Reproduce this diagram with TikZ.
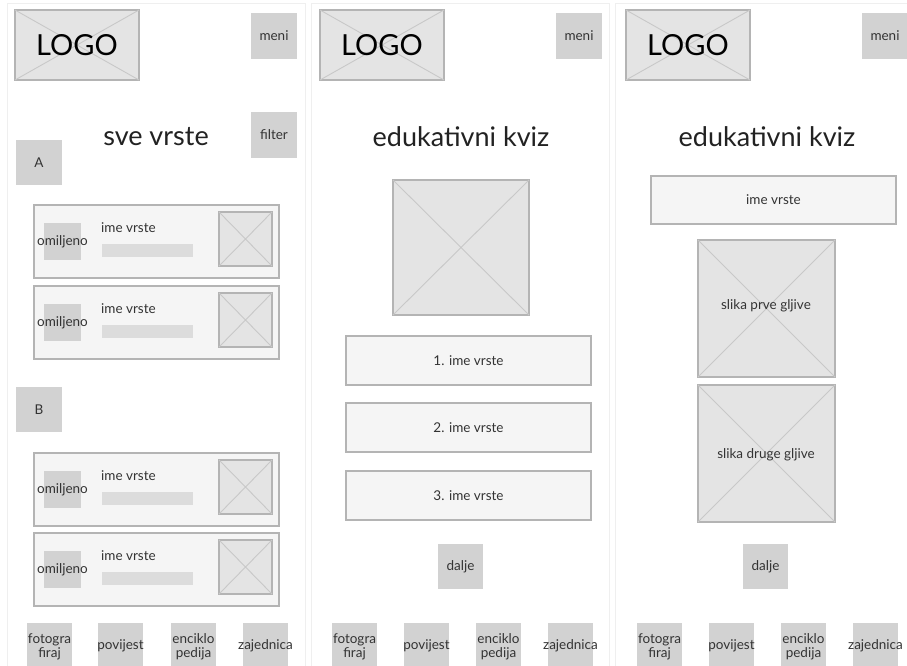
\documentclass[tikz,border=0pt]{standalone}
\usepackage{fontspec}
\setmainfont{Lato}
\definecolor{phfill}{HTML}{E4E4E4}
\definecolor{phline}{HTML}{B4B4B4}
\definecolor{diagc}{HTML}{C8C8C8}
\definecolor{gbox}{HTML}{D2D2D2}
\definecolor{cardfill}{HTML}{F5F5F5}
\definecolor{cardline}{HTML}{B4B4B4}
\definecolor{barc}{HTML}{DCDCDC}
\definecolor{framec}{HTML}{EFEFEF}
\definecolor{txt}{HTML}{333333}
\definecolor{ttl}{HTML}{222222}
\tikzset{
  ph/.style={draw=phline, fill=phfill, line width=1.3pt, inner sep=0pt, outer sep=0pt},
  diag/.style={draw=diagc, line width=0.9pt},
  gray/.style={fill=gbox, inner sep=0pt, outer sep=0pt},
  cardbox/.style={draw=cardline, fill=cardfill, line width=1.2pt, inner sep=0pt, outer sep=0pt},
  barbox/.style={fill=barc, inner sep=0pt, outer sep=0pt},
  frame/.style={draw=framec, line width=1pt, inner sep=0pt, outer sep=0pt},
  small/.style={text=txt, font=\fontsize{13.5}{14}\selectfont, inner sep=0pt, align=center},
  title/.style={text=ttl, font=\fontsize{27}{30}\selectfont, inner sep=0pt},
  logo/.style={text=black, font=\fontsize{29}{32}\selectfont, inner sep=0pt},
}
% name, x1, y1, x2, y2, style, text
\newcommand\wbox[7]{\node[#6, minimum width={(#4)-(#2)}, minimum height={(#5)-(#3)}] (#1) at ({((#2)+(#4))/2},{((#3)+(#5))/2}) {#7};}
% placeholder image: name, x1,y1,x2,y2
\newcommand\wimg[5]{\wbox{#1}{#2}{#3}{#4}{#5}{ph}{}
  \draw[diag] (#1.north west) -- (#1.south east) (#1.south west) -- (#1.north east);}
% card: name, top y
\newcommand\wcard[2]{%
  \wbox{#1}{34}{#2}{279}{#2+73}{cardbox}{}
  \wbox{#1f}{44}{#2+18}{81}{#2+55}{gray}{}
  \node[small] (#1ft) at (#1f) {omiljeno};
  \node[small, anchor=west] (#1n) at (101,{#2+23}) {ime vrste};
  \wbox{#1b}{102}{#2+39}{193}{#2+52}{barbox}{}
  \wimg{#1i}{219}{#2+7}{272}{#2+61}}
% nav: prefix, x offsets of four boxes
\newcommand\wnav[5]{%
  \wbox{#1a}{#2}{623}{#2+45}{668}{gray}{}
  \wbox{#1b}{#3}{623}{#3+45}{668}{gray}{}
  \wbox{#1c}{#4}{623}{#4+45}{668}{gray}{}
  \wbox{#1d}{#5}{623}{#5+45}{668}{gray}{}
  \node[small] (#1at) at ({#2+22.5},647) {fotogra\\firaj};
  \node[small] (#1bt) at ({#3+22.5},646) {povijest};
  \node[small] (#1ct) at ({#4+22.5},647) {enciklo\\pedija};
  \node[small] (#1dt) at ({#5+22.5},646) {zajednica};}
\begin{document}
\begin{tikzpicture}[x=1pt,y=-1pt]
\useasboundingbox (0,0) rectangle (907,665);
\fill[white] (0,0) rectangle (907,665);
% panel frames
\wbox{f1}{7}{3}{305}{672}{frame}{}
\wbox{f2}{311}{3}{609}{672}{frame}{}
\wbox{f3}{615}{3}{912}{672}{frame}{}

% ---------- panel 1 ----------
\wimg{l1}{15}{10}{139}{80}
\node[logo] (l1t) at (l1) {LOGO};
\wbox{m1}{251}{13}{297}{59}{gray,small}{meni}
\node[title] (t1) at (156,137) {sve vrste};
\wbox{fi1}{251}{112}{297}{158}{gray,small}{filter}
\wbox{a1}{16}{140}{62}{185}{gray,small}{A}
\wcard{c1}{205}
\wcard{c2}{286}
\wbox{b1}{16}{387}{62}{432}{gray,small}{B}
\wcard{c3}{453}
\wcard{c4}{533}
\wnav{n1}{27}{98}{171}{243}

% ---------- panel 2 ----------
\wimg{l2}{320}{10}{444}{80}
\node[logo] (l2t) at (l2) {LOGO};
\wbox{m2}{556}{13}{602}{59}{gray,small}{meni}
\node[title] (t2) at (461,137) {edukativni kviz};
\wimg{q2}{393}{180}{529}{315}
\wbox{o1}{346}{336}{591}{385}{cardbox,small}{1. ime vrste}
\wbox{o2}{346}{403}{591}{452}{cardbox,small}{2. ime vrste}
\wbox{o3}{346}{471}{591}{520}{cardbox,small}{3. ime vrste}
\wbox{d2}{438}{544}{483}{589}{gray,small}{dalje}
\wnav{n2}{332}{404}{476}{548}

% ---------- panel 3 ----------
\wimg{l3}{626}{10}{750}{80}
\node[logo] (l3t) at (l3) {LOGO};
\wbox{m3}{862}{13}{908}{59}{gray,small}{meni}
\node[title] (t3) at (767,137) {edukativni kviz};
\wbox{iv3}{651}{176}{896}{224}{cardbox,small}{ime vrste}
\wimg{g1}{698}{240}{835}{377}
\node[small] (g1t) at (766,306) {slika prve gljive};
\wimg{g2}{698}{385}{835}{522}
\node[small] (g2t) at (766,455) {slika druge gljive};
\wbox{d3}{743}{544}{788}{589}{gray,small}{dalje}
\wnav{n3}{637}{709}{781}{853}
\end{tikzpicture}
\end{document}
